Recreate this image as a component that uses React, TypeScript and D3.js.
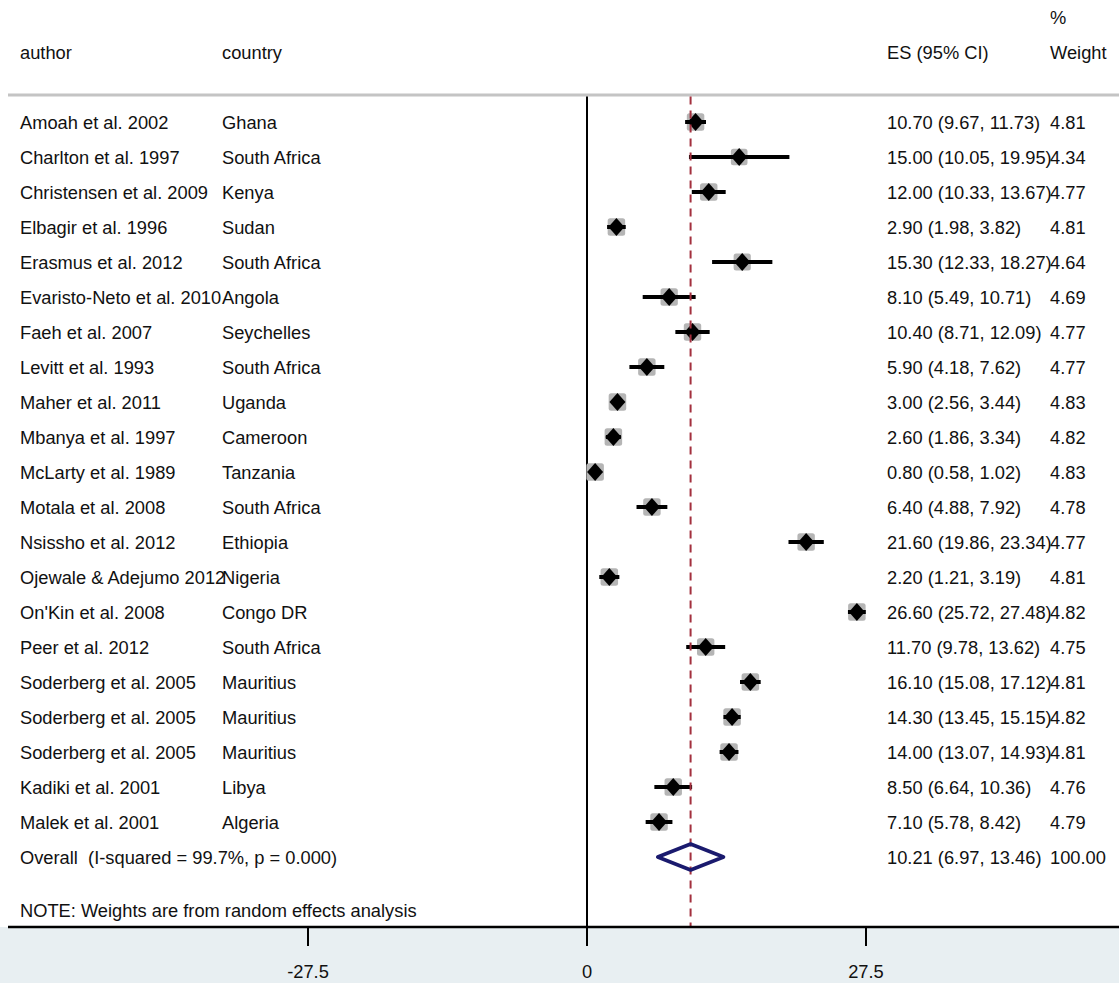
import React from "react";
import * as d3 from "d3";

const authors = [
  "Amoah et al. 2002", "Charlton et al. 1997", "Christensen et al. 2009", "Elbagir et al. 1996",
  "Erasmus et al. 2012", "Evaristo-Neto et al. 2010", "Faeh et al. 2007", "Levitt et al. 1993",
  "Maher et al. 2011", "Mbanya et al. 1997", "McLarty et al. 1989", "Motala et al. 2008",
  "Nsissho et al. 2012", "Ojewale & Adejumo 2012", "On'Kin et al. 2008", "Peer et al. 2012",
  "Soderberg et al. 2005", "Soderberg et al. 2005", "Soderberg et al. 2005", "Kadiki et al. 2001",
  "Malek et al. 2001",
];
const countries = [
  "Ghana", "South Africa", "Kenya", "Sudan", "South Africa", "Angola", "Seychelles", "South Africa",
  "Uganda", "Cameroon", "Tanzania", "South Africa", "Ethiopia", "Nigeria", "Congo DR", "South Africa",
  "Mauritius", "Mauritius", "Mauritius", "Libya", "Algeria",
];
const es = [10.7, 15.0, 12.0, 2.9, 15.3, 8.1, 10.4, 5.9, 3.0, 2.6, 0.8, 6.4, 21.6, 2.2, 26.6, 11.7, 16.1, 14.3, 14.0, 8.5, 7.1];
const lo = [9.67, 10.05, 10.33, 1.98, 12.33, 5.49, 8.71, 4.18, 2.56, 1.86, 0.58, 4.88, 19.86, 1.21, 25.72, 9.78, 15.08, 13.45, 13.07, 6.64, 5.78];
const hi = [11.73, 19.95, 13.67, 3.82, 18.27, 10.71, 12.09, 7.62, 3.44, 3.34, 1.02, 7.92, 23.34, 3.19, 27.48, 13.62, 17.12, 15.15, 14.93, 10.36, 8.42];
const weights = [4.81, 4.34, 4.77, 4.81, 4.64, 4.69, 4.77, 4.77, 4.83, 4.82, 4.83, 4.78, 4.77, 4.81, 4.82, 4.75, 4.81, 4.82, 4.81, 4.76, 4.79];
const overall = { es: 10.21, lo: 6.97, hi: 13.46, weight: 100.0 };
const overallLabel = "Overall  (I-squared = 99.7%, p = 0.000)";
const noteLabel = "NOTE: Weights are from random effects analysis";
const xTicks = [-27.5, 0, 27.5];

const W = 1119;
const H = 983;
const FONT = "'Liberation Sans', Arial, sans-serif";
const FS = 18.3;

export default function App() {
  const x = d3.scaleLinear().domain([0, 27.5]).range([587, 866]);
  const y = (i: number) => 122 + i * 35;
  const axisY = 927;
  const topY = 95;
  const fmt = d3.format(".2f");
  const boxSize = (w: number) => 17.5 * Math.sqrt(w / 4.81);
  const n = authors.length;
  const oy = y(n);
  const dy = 6.5;

  return (
    <svg width={W} height={H} style={{ position: "absolute", left: 0, top: 0, background: "#fff", whiteSpace: "pre" }} fontFamily={FONT} fontSize={FS} fill="#111">
      <rect x={0} y={axisY} width={W} height={H - axisY} fill="#e8eff2" />
      {/* header */}
      <text x={20} y={59}>author</text>
      <text x={222} y={59}>country</text>
      <text x={887} y={59}>ES (95% CI)</text>
      <text x={1050} y={24}>%</text>
      <text x={1050} y={59}>Weight</text>
      <line x1={8} x2={W} y1={topY} y2={topY} stroke="#c4c4c4" strokeWidth={3} />
      {/* zero line */}
      <line x1={x(0)} x2={x(0)} y1={topY + 1.5} y2={axisY} stroke="#000" strokeWidth={2} />
      {/* rows */}
      {authors.map((a, i) => {
        const cy = y(i);
        const s = boxSize(weights[i]);
        const cx = x(es[i]);
        return (
          <g key={i}>
            <text x={20} y={cy + dy}>{a}</text>
            <text x={222} y={cy + dy}>{countries[i]}</text>
            <text x={887} y={cy + dy}>{`${fmt(es[i])} (${fmt(lo[i])}, ${fmt(hi[i])})`}</text>
            <text x={1050} y={cy + dy}>{fmt(weights[i])}</text>
            <rect x={cx - s / 2} y={cy - s / 2} width={s} height={s} rx={2.5} fill="#b5b5b5" />
            <line x1={x(lo[i])} x2={x(hi[i])} y1={cy} y2={cy} stroke="#000" strokeWidth={4} />
            <path d={`M${cx - 8},${cy} L${cx},${cy - 9} L${cx + 8},${cy} L${cx},${cy + 9} Z`} fill="#000" />
          </g>
        );
      })}
      {/* overall */}
      <text x={20} y={oy + dy} xmlSpace="preserve">{overallLabel}</text>
      <text x={887} y={oy + dy}>{`${fmt(overall.es)} (${fmt(overall.lo)}, ${fmt(overall.hi)})`}</text>
      <text x={1050} y={oy + dy}>{fmt(overall.weight)}</text>
      <line x1={x(overall.es)} x2={x(overall.es)} y1={topY + 1.5} y2={axisY} stroke="#a3303e" strokeWidth={2} strokeDasharray="8,6" />
      <path
        d={`M${x(overall.lo)},${oy} L${x(overall.es)},${oy - 13} L${x(overall.hi)},${oy} L${x(overall.es)},${oy + 13} Z`}
        fill="none" stroke="#1a1a6e" strokeWidth={3.5} strokeLinejoin="round"
      />
      <text x={20} y={917}>{noteLabel}</text>
      {/* axis */}
      <line x1={8} x2={W} y1={axisY} y2={axisY} stroke="#000" strokeWidth={2.5} />
      {xTicks.map((t) => (
        <g key={t}>
          <line x1={x(t)} x2={x(t)} y1={axisY} y2={axisY + 19} stroke="#000" strokeWidth={2} />
          <text x={x(t)} y={978} textAnchor="middle">{String(t)}</text>
        </g>
      ))}
    </svg>
  );
}
